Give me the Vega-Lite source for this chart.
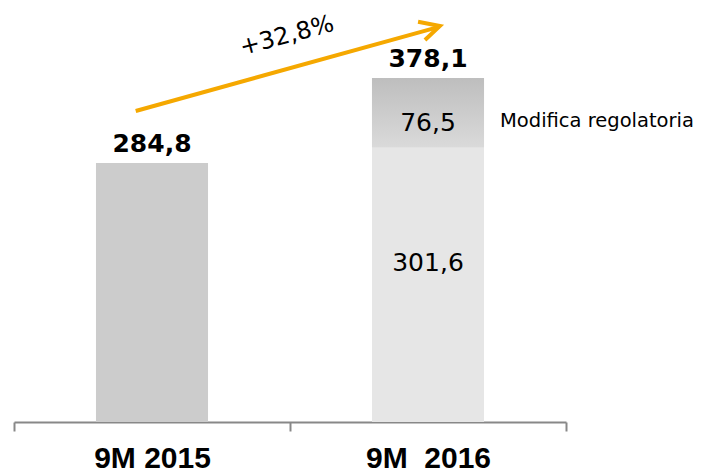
{
  "$schema": "https://vega.github.io/schema/vega-lite/v6.json",
  "autosize": "none",
  "width": 552,
  "height": 422,
  "padding": {"left": 14, "top": 0, "right": 151, "bottom": 50},
  "background": "white",
  "config": {
    "view": {"stroke": null},
    "locale": {"number": {"decimal": ",", "thousands": ".", "grouping": [3], "currency": ["", " €"]}}
  },
  "datasets": {
    "bars": [
      {"cat": "9M 2015", "part": "base", "v": 284.8, "lo": 0, "hi": 284.8, "note": ""},
      {"cat": "9M\u00a0 2016", "part": "base", "v": 301.6, "lo": 0, "hi": 301.6, "note": ""},
      {"cat": "9M\u00a0 2016", "part": "reg", "v": 76.5, "lo": 301.6, "hi": 378.1, "note": "Modifica regolatoria"}
    ],
    "totals": [
      {"cat": "9M 2015", "total": 284.8},
      {"cat": "9M\u00a0 2016", "total": 378.1}
    ],
    "arrow": [
      {"seg": "shaft", "i": 0, "ax": 0.441, "ay": 342},
      {"seg": "shaft", "i": 1, "ax": 1.54, "ay": 434.5},
      {"seg": "head", "i": 0, "ax": 1.464, "ay": 440.1},
      {"seg": "head", "i": 1, "ax": 1.543, "ay": 435.4},
      {"seg": "head", "i": 2, "ax": 1.489, "ay": 420}
    ],
    "growth": [
      {"gx": 0.989, "gy": 424.4, "label": "+32,8%"}
    ]
  },
  "resolve": {"scale": {"x": "independent"}},
  "layer": [
    {
      "layer": [
        {
          "data": {"name": "bars"},
          "transform": [{"filter": "datum.part == 'base'"}],
          "mark": {"type": "bar", "width": {"band": 0.406}},
          "encoding": {
            "x": {
              "field": "cat", "type": "nominal", "sort": null,
              "scale": {"domain": ["9M 2015", "9M\u00a0 2016"], "paddingInner": 0, "paddingOuter": 0},
              "axis": {
                "title": null, "tickBand": "extent", "domainColor": "#888888", "domainWidth": 2,
                "tickColor": "#888888", "tickWidth": 2, "tickSize": 9,
                "labelFont": "Liberation Sans", "labelFontWeight": "bold", "labelFontSize": 30,
                "labelColor": "#000000", "labelBaseline": "alphabetic", "labelPadding": 36,
                "labelAngle": 0, "labelFlush": false, "labelOverlap": false, "labelBound": false,
                "grid": false
              }
            },
            "y": {"field": "hi", "type": "quantitative", "scale": {"domain": [0, 464], "nice": false, "zero": true}, "axis": null},
            "y2": {"field": "lo"},
            "color": {"condition": {"test": "datum.cat == '9M 2015'", "value": "#CCCCCC"}, "value": "#E6E6E6"}
          }
        },
        {
          "data": {"name": "bars"},
          "transform": [{"filter": "datum.part == 'reg'"}],
          "mark": {"type": "bar", "width": {"band": 0.406},
            "color": {"gradient": "linear", "x1": 0, "y1": 0, "x2": 0, "y2": 1,
              "stops": [{"offset": 0, "color": "#BEBEBE"}, {"offset": 1, "color": "#DADADA"}]}},
          "encoding": {
            "x": {"field": "cat", "type": "nominal"},
            "y": {"field": "hi", "type": "quantitative"},
            "y2": {"field": "lo"}
          }
        },
        {
          "data": {"name": "bars"},
          "transform": [{"filter": "datum.part == 'reg'"}],
          "mark": {"type": "text", "font": "DejaVu Sans", "fontSize": 25, "color": "#000000", "baseline": "alphabetic", "align": "center", "dy": 53},
          "encoding": {
            "x": {"field": "cat", "type": "nominal"},
            "y": {"field": "hi", "type": "quantitative"},
            "text": {"field": "v", "type": "quantitative", "format": ".1f"}
          }
        },
        {
          "data": {"name": "bars"},
          "transform": [{"filter": "datum.part == 'reg'"}],
          "mark": {"type": "text", "font": "DejaVu Sans", "fontSize": 19.5, "color": "#000000", "baseline": "alphabetic", "align": "left", "dx": 72, "dy": 49},
          "encoding": {
            "x": {"field": "cat", "type": "nominal"},
            "y": {"field": "hi", "type": "quantitative"},
            "text": {"field": "note"}
          }
        },
        {
          "data": {"name": "bars"},
          "transform": [{"filter": "datum.part == 'base' && datum.cat != '9M 2015'"}],
          "mark": {"type": "text", "font": "DejaVu Sans", "fontSize": 25, "color": "#000000", "baseline": "alphabetic", "align": "center", "dy": 123},
          "encoding": {
            "x": {"field": "cat", "type": "nominal"},
            "y": {"field": "hi", "type": "quantitative"},
            "text": {"field": "v", "type": "quantitative", "format": ".1f"}
          }
        },
        {
          "data": {"name": "totals"},
          "mark": {"type": "text", "font": "DejaVu Sans", "fontWeight": "bold", "fontSize": 25, "color": "#000000", "baseline": "alphabetic", "align": "center", "dy": -11},
          "encoding": {
            "x": {"field": "cat", "type": "nominal"},
            "y": {"field": "total", "type": "quantitative"},
            "text": {"field": "total", "type": "quantitative", "format": ".1f"}
          }
        }
      ]
    },
    {
      "layer": [
        {
          "data": {"name": "arrow"},
          "mark": {"type": "line", "color": "#F5A800", "strokeWidth": 4, "strokeCap": "butt", "strokeJoin": "miter"},
          "encoding": {
            "x": {"field": "ax", "type": "quantitative", "scale": {"domain": [0, 2], "nice": false, "zero": false}, "axis": null},
            "y": {"field": "ay", "type": "quantitative"},
            "detail": {"field": "seg"},
            "order": {"field": "i", "type": "quantitative"}
          }
        },
        {
          "data": {"name": "growth"},
          "mark": {"type": "text", "font": "DejaVu Sans", "fontSize": 24, "color": "#000000", "angle": 345, "align": "center", "baseline": "middle"},
          "encoding": {
            "x": {"field": "gx", "type": "quantitative"},
            "y": {"field": "gy", "type": "quantitative"},
            "text": {"field": "label"}
          }
        }
      ]
    }
  ]
}
